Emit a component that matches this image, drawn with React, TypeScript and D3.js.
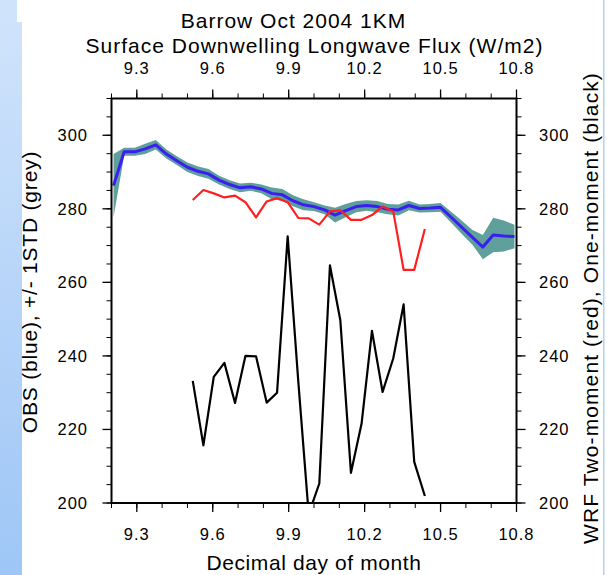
import React from 'react';
import * as d3 from 'd3';

// Observation times (decimal day) and values
const obsTime = [9.208, 9.25, 9.292, 9.333, 9.375, 9.417, 9.458, 9.5, 9.542, 9.583, 9.625, 9.667, 9.708, 9.75, 9.792, 9.833, 9.875, 9.917, 9.958, 10.0, 10.042, 10.083, 10.125, 10.167, 10.208, 10.25, 10.292, 10.333, 10.375, 10.417, 10.458, 10.5, 10.542, 10.583, 10.625, 10.667, 10.708, 10.75, 10.792];
const obsMean = [286.3, 295.5, 295.5, 296.3, 297.4, 294.9, 293.1, 291.3, 290.2, 289.5, 287.8, 286.6, 285.7, 286.0, 285.4, 284.2, 283.8, 282.2, 281.1, 280.6, 279.7, 278.3, 279.5, 280.6, 280.9, 280.6, 279.9, 279.7, 280.9, 280.1, 280.2, 280.4, 277.7, 275.0, 272.3, 269.6, 272.9, 272.6, 272.5];
const obsStd = [8.6, 1.1, 1.1, 1.4, 1.3, 1.2, 1.2, 1.3, 1.3, 1.3, 1.2, 1.2, 1.2, 1.1, 1.2, 1.6, 1.6, 1.5, 1.5, 1.2, 1.2, 2.0, 1.8, 1.5, 1.4, 1.5, 1.4, 1.5, 1.3, 1.1, 1.1, 1.2, 1.5, 1.8, 2.0, 3.3, 4.7, 4.2, 3.2];

// WRF model times and values
const modelTime = [9.521, 9.563, 9.604, 9.646, 9.688, 9.729, 9.771, 9.813, 9.854, 9.896, 9.938, 9.979, 10.021, 10.063, 10.104, 10.146, 10.188, 10.229, 10.271, 10.313, 10.354, 10.396, 10.438];
const twoMoment = [282.4, 285.1, 284.2, 283.1, 283.6, 281.8, 277.7, 282.0, 282.9, 281.8, 277.5, 277.4, 275.7, 279.3, 279.6, 277.0, 277.0, 278.3, 280.6, 279.3, 263.4, 263.4, 274.5];
const oneMoment = [233.2, 215.7, 234.3, 238.1, 227.2, 240.0, 239.9, 227.3, 230.0, 272.5, 233.0, 197.0, 205.3, 264.6, 249.7, 208.2, 221.6, 246.8, 230.2, 239.3, 254.0, 211.2, 201.9];

const xTicks = [9.3, 9.6, 9.9, 10.2, 10.5, 10.8];
const xTickLabels = ['9.3', '9.6', '9.9', '10.2', '10.5', '10.8'];
const yTicks = [200, 220, 240, 260, 280, 300];
const yTickLabels = ['200', '220', '240', '260', '280', '300'];

const titleLine1 = 'Barrow Oct 2004 1KM';
const titleLine2 = 'Surface Downwelling Longwave Flux (W/m2)';
const xTitle = 'Decimal day of month';
const yLeftTitle = 'OBS (blue), +/- 1STD (grey)';
const yRightTitle = 'WRF Two-moment (red), One-moment (black)';

const FONT = '"Liberation Sans", Arial, Helvetica, sans-serif';

export default function App() {
  const W = 607, H = 575;
  const L = 111.5, R = 516.5, T = 98.5, B = 503;
  const x = d3.scaleLinear().domain([9.2, 10.8]).range([L, R]);
  const y = d3.scaleLinear().domain([200, 310]).range([B, T]);

  const band = d3.area<number>()
    .x((_, i) => x(obsTime[i]))
    .y0((d, i) => y(d - obsStd[i]))
    .y1((d, i) => y(d + obsStd[i]))(obsMean) || '';
  const obsLine = d3.line<number>().x((_, i) => x(obsTime[i])).y(d => y(d))(obsMean) || '';
  const redLine = d3.line<number>().x((_, i) => x(modelTime[i])).y(d => y(d))(twoMoment) || '';
  const blackLine = d3.line<number>().x((_, i) => x(modelTime[i])).y(d => y(d))(oneMoment) || '';

  const xMinor = d3.range(92, 109).map(v => v / 10);
  const yMinor = d3.range(200, 311, 5);
  const MAJ = 9, MIN = 5;
  const tickFont = 16.5;

  return (
    <svg width={W} height={H} style={{ position: 'absolute', left: 0, top: 0, background: '#fff' }} fontFamily={FONT}>
      <defs>
        <linearGradient id="strip" x1="0" y1="0" x2="0" y2="1">
          <stop offset="0" stopColor="#cfe3fb" />
          <stop offset="1" stopColor="#9ec6f6" />
        </linearGradient>
        <clipPath id="plotClip">
          <rect x={L} y={T} width={R - L} height={B - T} />
        </clipPath>
      </defs>
      <rect x={0} y={0} width={W} height={H} fill="#fff" />
      <rect x={0} y={0} width={17} height={23} fill="#cfe3fb" />
      <rect x={0} y={22} width={22} height={H - 22} fill="url(#strip)" />
      <rect x={603} y={0} width={1.5} height={H} fill="#b3d2f4" />

      {/* titles */}
      <text x={293.5} y={28} textAnchor="middle" fontSize={21} letterSpacing={1}>{titleLine1}</text>
      <text x={314.5} y={53} textAnchor="middle" fontSize={21} letterSpacing={1}>{titleLine2}</text>

      {/* data */}
      <g clipPath="url(#plotClip)">
        <path d={band} fill="#5f9f9c" />
        <path d={obsLine} fill="none" stroke="#3b1ff0" strokeWidth={3} strokeLinejoin="round" />
        <path d={redLine} fill="none" stroke="#ff1f1f" strokeWidth={2.2} strokeLinejoin="round" />
        <path d={blackLine} fill="none" stroke="#000" strokeWidth={2.2} strokeLinejoin="round" />
      </g>

      {/* frame */}
      <rect x={L} y={T} width={R - L} height={B - T} fill="none" stroke="#000" strokeWidth={2} />

      {/* x ticks bottom and top */}
      {xMinor.map((v, i) => (
        <g key={'xm' + i}>
          <line x1={x(v)} x2={x(v)} y1={B} y2={B + MIN} stroke="#000" strokeWidth={1} />
          <line x1={x(v)} x2={x(v)} y1={T} y2={T - MIN} stroke="#000" strokeWidth={1} />
        </g>
      ))}
      {xTicks.map((v, i) => (
        <g key={'xt' + i}>
          <line x1={x(v)} x2={x(v)} y1={B} y2={B + MAJ} stroke="#000" strokeWidth={1.3} />
          <line x1={x(v)} x2={x(v)} y1={T} y2={T - MAJ} stroke="#000" strokeWidth={1.3} />
          <text x={x(v)} y={540} textAnchor="middle" fontSize={tickFont} letterSpacing={1}>{xTickLabels[i]}</text>
          <text x={x(v)} y={74} textAnchor="middle" fontSize={tickFont} letterSpacing={1}>{xTickLabels[i]}</text>
        </g>
      ))}

      {/* y ticks left and right */}
      {yMinor.map((v, i) => (
        <g key={'ym' + i}>
          <line x1={L} x2={L - MIN} y1={y(v)} y2={y(v)} stroke="#000" strokeWidth={1} />
          <line x1={R} x2={R + MIN} y1={y(v)} y2={y(v)} stroke="#000" strokeWidth={1} />
        </g>
      ))}
      {yTicks.map((v, i) => (
        <g key={'yt' + i}>
          <line x1={L} x2={L - MAJ} y1={y(v)} y2={y(v)} stroke="#000" strokeWidth={1.3} />
          <line x1={R} x2={R + MAJ} y1={y(v)} y2={y(v)} stroke="#000" strokeWidth={1.3} />
          <text x={88} y={y(v)} dy="0.36em" textAnchor="end" fontSize={tickFont} letterSpacing={1}>{yTickLabels[i]}</text>
          <text x={539} y={y(v)} dy="0.36em" textAnchor="start" fontSize={tickFont} letterSpacing={1}>{yTickLabels[i]}</text>
        </g>
      ))}

      {/* axis titles */}
      <text x={314} y={569.5} textAnchor="middle" fontSize={21} letterSpacing={0.6}>{xTitle}</text>
      <text transform="translate(37,292) rotate(-90)" textAnchor="middle" fontSize={21} letterSpacing={0.8}>{yLeftTitle}</text>
      <text transform="translate(598,308) rotate(-90)" textAnchor="middle" fontSize={21} letterSpacing={1.1}>{yRightTitle}</text>
    </svg>
  );
}
